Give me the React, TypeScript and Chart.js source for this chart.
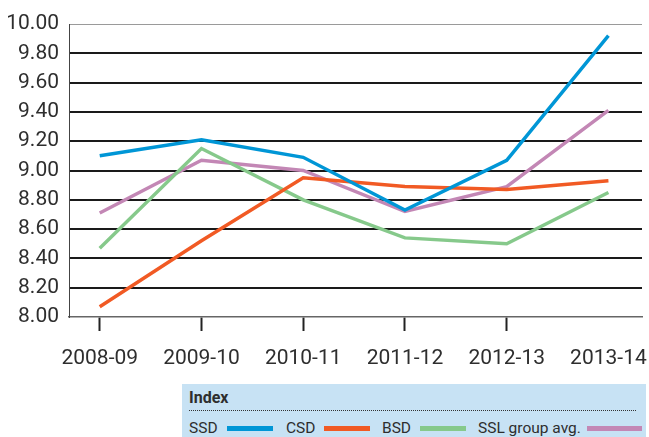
import React, { useEffect, useRef } from "react";
import { Chart, registerables } from "chart.js";

Chart.register(...registerables);

// ---- data ----
const categories = ["2008-09", "2009-10", "2010-11", "2011-12", "2012-13", "2013-14"];
const ssd = [9.1, 9.21, 9.09, 8.73, 9.07, 9.92];
const csd = [8.07, 8.52, 8.95, 8.89, 8.87, 8.93];
const bsd = [8.47, 9.15, 8.8, 8.54, 8.5, 8.85];
const sslAvg = [8.71, 9.07, 9.0, 8.72, 8.89, 9.41];
const seriesNames = ["SSD", "CSD", "BSD", "SSL group avg."];
const seriesColors = ["#0096d6", "#f15a24", "#86c98b", "#c387b5"];
const yTicks = [8.0, 8.2, 8.4, 8.6, 8.8, 9.0, 9.2, 9.4, 9.6, 9.8, 10.0];
const legendTitle = "Index";

const seriesValues = [ssd, csd, bsd, sslAvg];
const FONT = "Roboto, 'DejaVu Sans', sans-serif";
const TEXT = "#2e2e2e";
// layout: left offsets of legend items inside the legend box
const legendItemLeft = [7, 104, 200, 296];

export default function App() {
  const ref = useRef<HTMLCanvasElement | null>(null);

  useEffect(() => {
    document.body.style.margin = "0";
    const canvas = ref.current;
    if (!canvas) return;
    const chart = new Chart(canvas, {
      type: "line",
      data: {
        datasets: seriesValues.map((vals, s) => ({
          label: seriesNames[s],
          data: vals.map((v, i) => ({ x: i, y: v })),
          borderColor: seriesColors[s],
          backgroundColor: seriesColors[s],
          borderWidth: 3.5,
          pointRadius: 0,
          tension: 0,
          fill: false,
        })),
      },
      options: {
        animation: false,
        responsive: false,
        devicePixelRatio: 1,
        layout: { padding: { top: 24, right: 7, bottom: 0, left: 0 } },
        plugins: { legend: { display: false }, tooltip: { enabled: false } },
        scales: {
          x: {
            type: "linear",
            min: -0.302,
            max: 5.33,
            afterBuildTicks: (s: any) => {
              s.ticks = categories.map((_, i) => ({ value: i }));
            },
            afterFit: (s: any) => {
              s.height = 120;
              s.paddingLeft = 0;
              s.paddingRight = 0;
            },
            grid: {
              drawOnChartArea: false,
              drawTicks: true,
              tickLength: 14,
              tickWidth: 2,
              tickColor: (ctx: any) =>
                ctx.tick && ctx.tick.value === categories.length - 1 ? "rgba(0,0,0,0)" : "#222",
            },
            border: { display: true, color: "#666", width: 1.5 },
            ticks: {
              autoSkip: false,
              maxRotation: 0,
              padding: 15,
              color: TEXT,
              font: { family: FONT, size: 21 },
              callback: (_v: any, i: number) => categories[i],
            },
          },
          y: {
            min: yTicks[0],
            max: yTicks[yTicks.length - 1],
            afterBuildTicks: (s: any) => {
              s.ticks = yTicks.map((v) => ({ value: v }));
            },
            afterFit: (s: any) => {
              s.width = 69;
            },
            grid: {
              drawTicks: false,
              color: (ctx: any) => {
                const v = ctx.tick ? ctx.tick.value : 0;
                if (v >= yTicks[yTicks.length - 1]) return "#9a9a9a";
                if (v <= yTicks[0]) return "rgba(0,0,0,0)";
                return "#1a1a1a";
              },
              lineWidth: (ctx: any) =>
                ctx.tick && ctx.tick.value >= yTicks[yTicks.length - 1] ? 1 : 2,
            },
            border: { display: true, color: "#444", width: 1 },
            ticks: {
              padding: 10,
              color: TEXT,
              font: { family: FONT, size: 21 },
              callback: (v: any) => Number(v).toFixed(2),
            },
          },
        },
      },
    });
    return () => chart.destroy();
  }, []);

  return (
    <div style={{ position: "absolute", left: 0, top: 0, width: 649, height: 437, background: "#fff", overflow: "hidden" }}>
      <canvas ref={ref} width={649} height={437} style={{ display: "block" }} />
      <div
        style={{
          position: "absolute",
          left: 182,
          top: 384,
          width: 464,
          height: 53,
          background: "#c7e2f4",
          fontFamily: FONT,
          color: TEXT,
        }}
      >
        <div style={{ position: "absolute", left: 7, top: 4, fontWeight: 700, fontSize: 16, lineHeight: "20px" }}>
          {legendTitle}
        </div>
        <div style={{ position: "absolute", left: 7, right: 10, top: 26, borderTop: "1px dotted #333" }} />
        {seriesNames.map((name, i) => (
          <div
            key={name}
            style={{
              position: "absolute",
              left: legendItemLeft[i],
              top: 34,
              display: "flex",
              alignItems: "center",
              fontSize: 15.5,
              lineHeight: "20px",
              whiteSpace: "nowrap",
            }}
          >
            <span>{name}</span>
            <span
              style={{
                display: "inline-block",
                marginLeft: i === seriesNames.length - 1 ? 6 : 9,
                width: i === seriesNames.length - 1 ? 55 : 46,
                height: 5,
                background: seriesColors[i],
              }}
            />
          </div>
        ))}
      </div>
    </div>
  );
}
